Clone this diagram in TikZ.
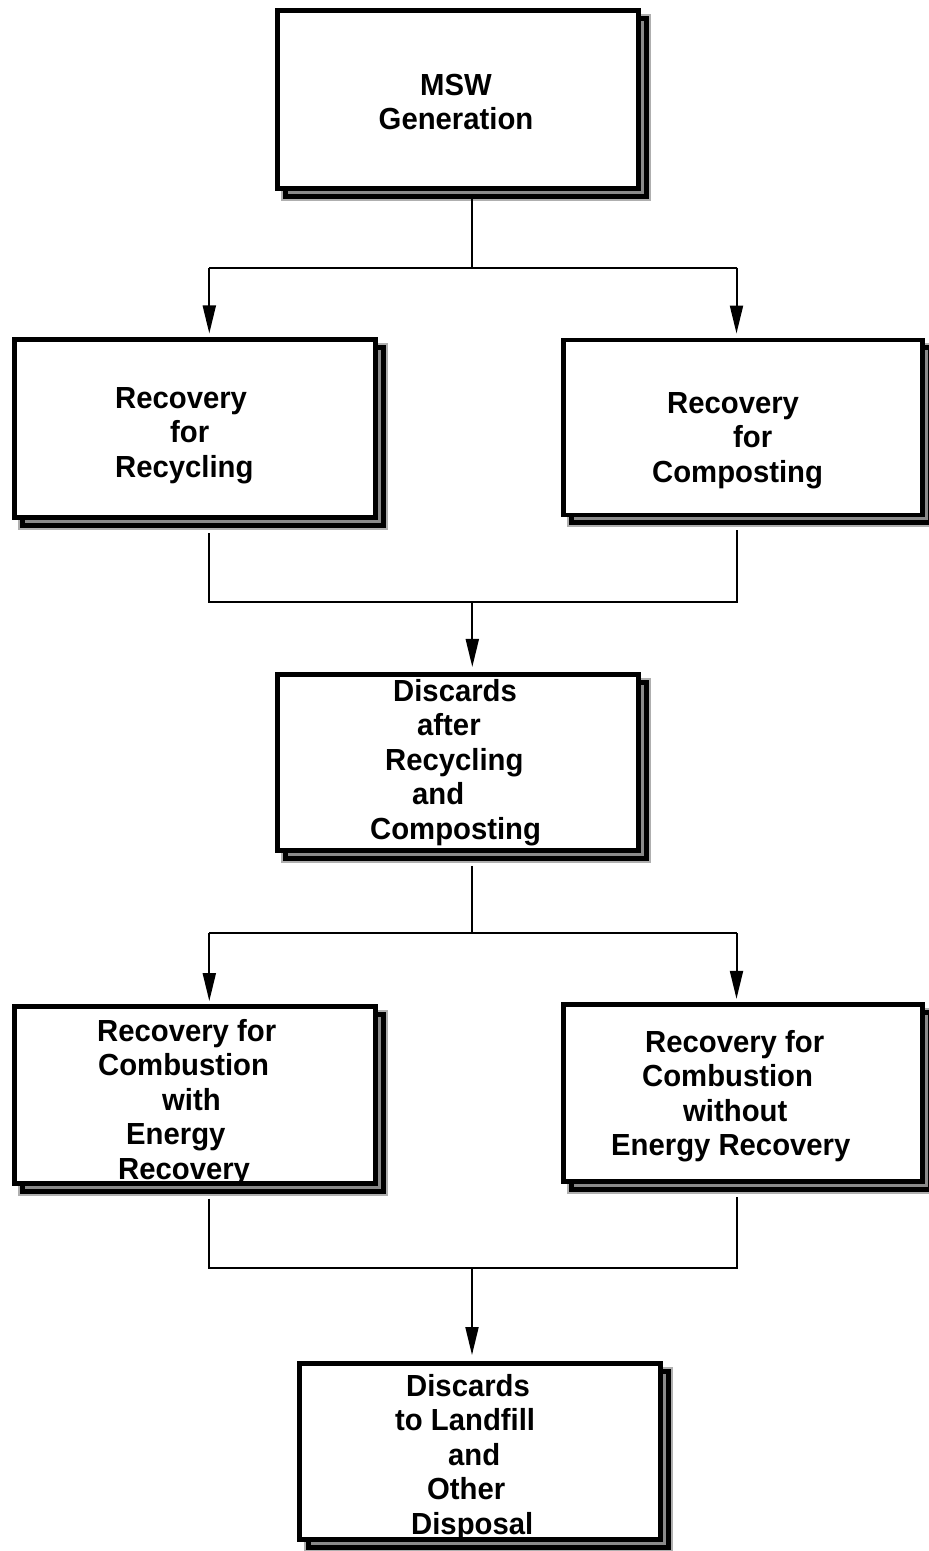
\documentclass[tikz,border=0pt]{standalone}
\usepackage{fontspec}
\newfontfamily\lbl{Liberation Sans}[FakeStretch=0.96]
\usetikzlibrary{arrows.meta}
\definecolor{shadowgray}{RGB}{138,138,138}
\definecolor{edgegray}{RGB}{175,175,175}
\tikzset{
  box/.style={rectangle, draw=black, fill=white, line width=4.8pt, inner sep=0pt},
  shadowbox/.style={rectangle, draw=black, fill=shadowgray, line width=5pt, inner sep=0pt,
    preaction={draw=edgegray, line width=9pt}},
  txt/.style={anchor=north west, align=left, inner sep=0pt,
    font=\lbl\bfseries\fontsize{30.5}{34.5}\selectfont},
  wire/.style={line width=2pt, line join=miter},
  arr/.style={wire, -{Triangle[length=28pt,width=13pt]}},
}
\begin{document}
\begin{tikzpicture}[x=1pt,y=-1pt]
\useasboundingbox (0,0) rectangle (929,1551);
\fill[white] (0,0) rectangle (929,1551);

% shadows
\node[shadowbox, minimum width=361pt, minimum height=177.7pt] (s1) at (466.3,107.7) {};
\node[shadowbox, minimum width=361pt, minimum height=177.7pt] (s2) at (203.0,436.7) {};
\node[shadowbox, minimum width=359pt, minimum height=175pt]   (s3) at (751.0,435.4) {};
\node[shadowbox, minimum width=361pt, minimum height=176.3pt] (s4) at (466.3,770.3) {};
\node[shadowbox, minimum width=361pt, minimum height=176.7pt] (s5) at (203.0,1102.8) {};
\node[shadowbox, minimum width=359pt, minimum height=177.5pt] (s6) at (751.0,1101.0) {};
\node[shadowbox, minimum width=360.4pt, minimum height=176pt] (s7) at (488.3,1459.2) {};

% boxes
\node[box, minimum width=361pt, minimum height=177.7pt] (b1) at (458.0,99.7) {};
\node[box, minimum width=361pt, minimum height=177.7pt] (b2) at (194.7,428.7) {};
\node[box, minimum width=359pt, minimum height=175pt]   (b3) at (742.7,427.4) {};
\node[box, minimum width=361pt, minimum height=176.3pt] (b4) at (458.0,762.3) {};
\node[box, minimum width=361pt, minimum height=176.7pt] (b5) at (194.7,1094.8) {};
\node[box, minimum width=359pt, minimum height=177.5pt] (b6) at (742.7,1093.0) {};
\node[box, minimum width=360.4pt, minimum height=176pt] (b7) at (480.0,1451.2) {};

% texts
\node[txt, anchor=north, align=center, font=\lbl\bfseries\fontsize{30.5}{34}\selectfont] (t1) at (456,74)
  {MSW\\Generation};
\node[txt] (t2) at (115,387) {Recovery\\\hspace*{55pt}for\\Recycling};
\node[txt] (t3) at (652,392) {\hspace*{15pt}Recovery\\\hspace*{81pt}for\\Composting};
\node[txt] (t4) at (370,679)
  {\hspace*{23pt}Discards\\\hspace*{47pt}after\\\hspace*{15pt}Recycling\\\hspace*{42pt}and\\Composting};
\node[txt] (t5) at (97,1019)
  {Recovery for\\\hspace*{1pt}Combustion\\\hspace*{65pt}with\\\hspace*{29pt}Energy\\\hspace*{21pt}Recovery};
\node[txt] (t6) at (611,1030)
  {\hspace*{34pt}Recovery for\\\hspace*{31pt}Combustion\\\hspace*{72pt}without\\Energy Recovery};
\node[txt] (t7) at (395,1374)
  {\hspace*{11pt}Discards\\to Landfill\\\hspace*{53pt}and\\\hspace*{32pt}Other\\\hspace*{16pt}Disposal};

% junction coordinates
\coordinate (j1) at (472,267.7);
\coordinate (l1) at (209.3,267.7);
\coordinate (r1) at (736.5,267.7);
\coordinate (j2) at (472.3,602);
\coordinate (l2) at (209.3,602);
\coordinate (r2) at (736.5,602);
\coordinate (j3) at (472,933);
\coordinate (l3) at (209.3,933);
\coordinate (r3) at (736.5,933);
\coordinate (j4) at (472,1268);
\coordinate (l4) at (209.3,1268);
\coordinate (r4) at (736.5,1268);

% connectors
\draw[wire] (s1.south -| j1) -- (j1);
\draw[wire] (l1) -- (r1);
\draw[arr, shorten >=4pt] (l1) -- (b2.north -| l1);
\draw[arr, shorten >=4pt] (r1) -- (b3.north -| r1);

\draw[wire, shorten <=5pt, shorten >=5pt] (s2.south -| l2) -- (l2) -- (r2) -- (s3.south -| r2);
\draw[arr, shorten >=4.8pt] (j2) -- (b4.north -| j2);

\draw[wire, shorten <=5pt] (s4.south -| j3) -- (j3);
\draw[wire] (l3) -- (r3);
\draw[arr, shorten >=3pt] (l3) -- (b5.north -| l3);
\draw[arr, shorten >=3pt] (r3) -- (b6.north -| r3);

\draw[wire, shorten <=5pt, shorten >=5pt] (s5.south -| l4) -- (l4) -- (r4) -- (s6.south -| r4);
\draw[arr, shorten >=5.8pt] (j4) -- (b7.north -| j4);
\end{tikzpicture}
\end{document}
